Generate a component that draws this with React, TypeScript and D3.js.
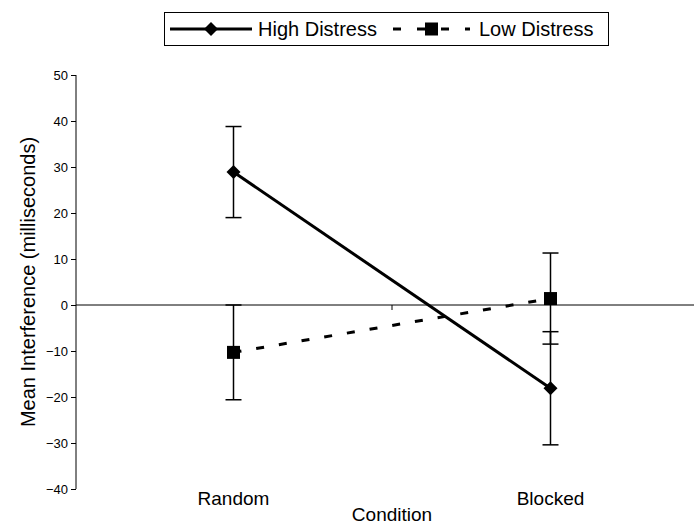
import * as d3 from 'd3';
import React, { useEffect, useRef } from 'react';

const categories = ['Random', 'Blocked'];
const highDistress = [28.9, -18.1];
const highDistressErr = [9.9, 12.3];
const lowDistress = [-10.3, 1.4];
const lowDistressErr = [10.3, 9.9];
const yTicks = [-40, -30, -20, -10, 0, 10, 20, 30, 40, 50];
const seriesNames = ['High Distress', 'Low Distress'];

const width = 694;
const height = 526;
const font = 'Arial, "Liberation Sans", sans-serif';

const App = () => {
  const ref = useRef<SVGSVGElement>(null);

  useEffect(() => {
    const svg = d3.select(ref.current);
    svg.selectAll('*').remove();

    const x = d3.scaleBand<string>().domain(categories).range([75, 709]);
    const y = d3.scaleLinear().domain([-40, 50]).range([489, 75]);
    const cx = (c: string) => (x(c) as number) + x.bandwidth() / 2;

    // y axis
    const yAxis = svg
      .append('g')
      .attr('transform', 'translate(76,0)')
      .call(d3.axisLeft(y).tickValues(yTicks).tickSize(5).tickSizeOuter(0).tickPadding(3));
    yAxis.select('.domain').attr('stroke', '#000').attr('d', `M0,${y(50)}V${y(-40)}`);
    yAxis.selectAll('.tick line').attr('stroke', '#000');
    yAxis.selectAll('.tick text').attr('font-family', font).attr('font-size', 13).attr('fill', '#000');

    // category axis at zero
    const xg = svg.append('g');
    xg.append('line')
      .attr('x1', 76)
      .attr('x2', 709)
      .attr('y1', y(0))
      .attr('y2', y(0))
      .attr('stroke', '#000')
      .attr('stroke-width', 1);
    xg.selectAll('line.tick')
      .data(categories.slice(1))
      .enter()
      .append('line')
      .attr('class', 'tick')
      .attr('x1', (d) => x(d) as number)
      .attr('x2', (d) => x(d) as number)
      .attr('y1', y(0))
      .attr('y2', y(0) + 5)
      .attr('stroke', '#000');

    svg.selectAll('text.cat')
      .data(categories)
      .enter()
      .append('text')
      .attr('class', 'cat')
      .attr('x', (d) => cx(d))
      .attr('y', 505)
      .attr('text-anchor', 'middle')
      .attr('font-family', font)
      .attr('font-size', 19)
      .text((d) => d);

    svg.append('text')
      .attr('x', 392)
      .attr('y', 521)
      .attr('text-anchor', 'middle')
      .attr('font-family', font)
      .attr('font-size', 19)
      .text('Condition');

    svg.append('text')
      .attr('transform', `translate(35,${(y(50) + y(-40)) / 2}) rotate(-90)`)
      .attr('text-anchor', 'middle')
      .attr('font-family', font)
      .attr('font-size', 20)
      .text('Mean Interference (milliseconds)');

    // error bars
    const errs = [
      { vals: highDistress, err: highDistressErr },
      { vals: lowDistress, err: lowDistressErr },
    ];
    errs.forEach((s) => {
      categories.forEach((c, i) => {
        const px = cx(c);
        const top = y(s.vals[i] + s.err[i]);
        const bot = y(s.vals[i] - s.err[i]);
        const g = svg.append('g').attr('stroke', '#000').attr('stroke-width', 1.5);
        g.append('line').attr('x1', px).attr('x2', px).attr('y1', top).attr('y2', bot);
        g.append('line').attr('x1', px - 8).attr('x2', px + 8).attr('y1', top).attr('y2', top);
        g.append('line').attr('x1', px - 8).attr('x2', px + 8).attr('y1', bot).attr('y2', bot);
      });
    });

    const line = d3
      .line<number>()
      .x((d, i) => cx(categories[i]))
      .y((d) => y(d));

    svg.append('path')
      .attr('d', line(lowDistress))
      .attr('fill', 'none')
      .attr('stroke', '#000')
      .attr('stroke-width', 3)
      .attr('stroke-dasharray', '8,15');

    svg.append('path')
      .attr('d', line(highDistress))
      .attr('fill', 'none')
      .attr('stroke', '#000')
      .attr('stroke-width', 3);

    const diamond = 'M0,-7L7,0L0,7L-7,0Z';
    svg.selectAll('path.hd')
      .data(highDistress)
      .enter()
      .append('path')
      .attr('class', 'hd')
      .attr('d', diamond)
      .attr('transform', (d, i) => `translate(${cx(categories[i])},${y(d)})`)
      .attr('fill', '#000');

    svg.selectAll('rect.ld')
      .data(lowDistress)
      .enter()
      .append('rect')
      .attr('class', 'ld')
      .attr('x', (d, i) => cx(categories[i]) - 6.5)
      .attr('y', (d) => y(d) - 6.5)
      .attr('width', 13)
      .attr('height', 13)
      .attr('fill', '#000');

    // legend
    const lg = svg.append('g');
    lg.append('rect')
      .attr('x', 164.5)
      .attr('y', 12.5)
      .attr('width', 444)
      .attr('height', 33)
      .attr('fill', '#fff')
      .attr('stroke', '#000');
    lg.append('line')
      .attr('x1', 170)
      .attr('x2', 252)
      .attr('y1', 29)
      .attr('y2', 29)
      .attr('stroke', '#000')
      .attr('stroke-width', 3);
    lg.append('path').attr('d', diamond).attr('transform', 'translate(211,29)').attr('fill', '#000');
    lg.append('line')
      .attr('x1', 393)
      .attr('x2', 470)
      .attr('y1', 29)
      .attr('y2', 29)
      .attr('stroke', '#000')
      .attr('stroke-width', 3)
      .attr('stroke-dasharray', '8,16');
    lg.append('rect').attr('x', 425).attr('y', 22.5).attr('width', 13).attr('height', 13).attr('fill', '#000');
    lg.selectAll('text')
      .data(seriesNames)
      .enter()
      .append('text')
      .attr('x', (d, i) => (i === 0 ? 258 : 479))
      .attr('y', 36)
      .attr('font-family', font)
      .attr('font-size', 20)
      .text((d) => d);
  }, []);

  return (
    <svg
      ref={ref}
      width={width}
      height={height}
      style={{ position: 'absolute', left: 0, top: 0, background: '#fff' }}
    ></svg>
  );
};

export default App;
